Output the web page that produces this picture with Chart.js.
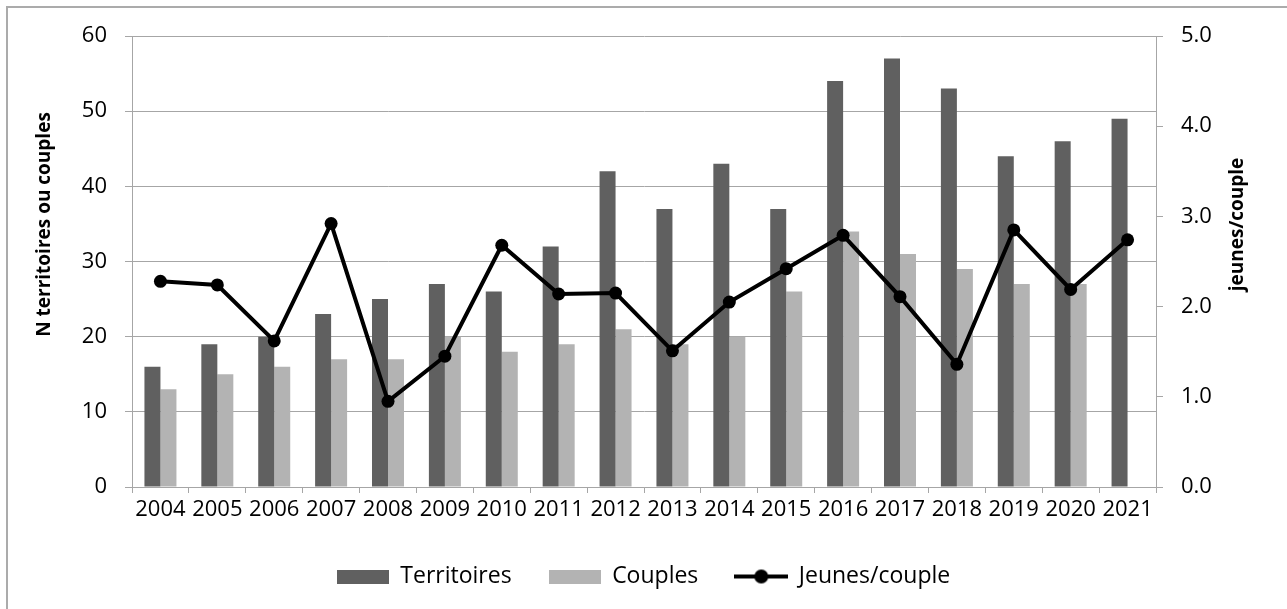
<!DOCTYPE html>
<html>
<head>
<meta charset="utf-8">
<script src="https://cdn.jsdelivr.net/npm/chart.js@4.4.1/dist/chart.umd.min.js"></script>
<style>
  html, body { margin: 0; padding: 0; background: #fff; }
  #wrap { position: relative; width: 1287px; height: 609px; overflow: hidden; }
  #frame { position: absolute; left: 6px; top: 6px; right: -10px; bottom: -10px;
           border-left: 2px solid #ababab; border-top: 2px solid #ababab; }
  #chart { position: absolute; left: 0; top: 0; }
</style>
</head>
<body>
<div id="wrap">
  <div id="frame"></div>
  <canvas id="chart" width="1287" height="609"></canvas>
</div>
<script>
// data
var annees = ["2004", "2005", "2006", "2007", "2008", "2009", "2010", "2011", "2012",
              "2013", "2014", "2015", "2016", "2017", "2018", "2019", "2020", "2021"];
var territoires = [16, 19, 20, 23, 25, 27, 26, 32, 42, 37, 43, 37, 54, 57, 53, 44, 46, 49];
var couples = [13, 15, 16, 17, 17, 20, 18, 19, 21, 19, 20, 26, 34, 31, 29, 27, 27, null];
var jeunesParCouple = [2.28, 2.24, 1.62, 2.92, 0.95, 1.45, 2.68, 2.14, 2.15, 1.51,
                       2.05, 2.42, 2.79, 2.11, 1.36, 2.85, 2.19, 2.74];
var ticksGauche = [0, 10, 20, 30, 40, 50, 60];
var ticksDroite = [0, 1, 2, 3, 4, 5];
var titreGauche = "N territoires ou couples";
var titreDroite = "jeunes/couple";

var FONT = "'Open Sans', sans-serif";
var TICK_SIZE = 22;
var LEGEND_SIZE = 23;
var GRIS_GRILLE = "#a6a6a6";
var FONCE = "#606060";
var CLAIR = "#b3b3b3";

// legend icons (drawn once on small canvases)
function iconeRect(color) {
  var c = document.createElement("canvas");
  c.width = 52; c.height = 14;
  var g = c.getContext("2d");
  g.fillStyle = color;
  g.fillRect(0, 0, 52, 14);
  return c;
}
function iconeLigne() {
  var c = document.createElement("canvas");
  c.width = 54; c.height = 16;
  var g = c.getContext("2d");
  g.strokeStyle = "#000"; g.lineWidth = 4;
  g.beginPath(); g.moveTo(0, 8); g.lineTo(54, 8); g.stroke();
  g.fillStyle = "#000";
  g.beginPath(); g.arc(27, 8, 7, 0, Math.PI * 2); g.fill();
  return c;
}
var icones = [iconeRect(FONCE), iconeRect(CLAIR), iconeLigne()];

// rotated axis titles, Excel puts them a bit above the middle
var titresAxes = {
  id: "titresAxes",
  afterDraw: function(chart) {
    var ctx = chart.ctx;
    var area = chart.chartArea;
    var cy = (area.top + area.bottom) / 2 - 37;
    [[titreGauche, 45], [titreDroite, 1238]].forEach(function(t) {
      ctx.save();
      ctx.fillStyle = "#000";
      ctx.font = "bold 19px " + FONT;
      ctx.textAlign = "center";
      ctx.textBaseline = "middle";
      ctx.translate(t[1], cy);
      ctx.rotate(-Math.PI / 2);
      ctx.fillText(t[0], 0, 0);
      ctx.restore();
    });
  }
};

Chart.defaults.font.family = FONT;
Chart.defaults.font.size = 20;
Chart.defaults.color = "#000";

var chart = new Chart(document.getElementById("chart").getContext("2d"), {
  type: "bar",
  data: {
    labels: annees,
    datasets: [{
      label: "Territoires",
      data: territoires,
      backgroundColor: FONCE,
      yAxisID: "y",
      order: 2,
      categoryPercentage: 0.5625,
      barPercentage: 1.0
    }, {
      label: "Couples",
      data: couples,
      backgroundColor: CLAIR,
      yAxisID: "y",
      order: 2,
      categoryPercentage: 0.5625,
      barPercentage: 1.0
    }, {
      type: "line",
      label: "Jeunes/couple",
      data: jeunesParCouple,
      borderColor: "#000",
      backgroundColor: "#000",
      borderWidth: 4,
      pointRadius: 6.5,
      pointHoverRadius: 6.5,
      pointBackgroundColor: "#000",
      pointBorderWidth: 0,
      tension: 0,
      yAxisID: "y1",
      order: 0
    }]
  },
  options: {
    responsive: false,
    animation: false,
    layout: { padding: { left: 0, right: 0, top: 36, bottom: 11 } },
    plugins: {
      tooltip: { enabled: false },
      legend: {
        position: "bottom",
        labels: {
          usePointStyle: true,
          pointStyleWidth: 52,
          padding: 37,
          font: { size: LEGEND_SIZE },
          generateLabels: function(chart) {
            var items = Chart.defaults.plugins.legend.labels.generateLabels(chart);
            items.sort(function(a, b) { return a.datasetIndex - b.datasetIndex; });
            items.forEach(function(it) { it.pointStyle = icones[it.datasetIndex]; });
            return items;
          }
        }
      }
    },
    scales: {
      x: {
        grid: {
          offset: true,
          drawOnChartArea: false,
          drawTicks: true,
          tickLength: 6,
          color: GRIS_GRILLE
        },
        border: { display: true, color: GRIS_GRILLE },
        ticks: { padding: 4, maxRotation: 0, autoSkip: false, font: { size: TICK_SIZE } },
        afterFit: function(scale) { scale.height = 41; }
      },
      y: {
        position: "left",
        min: ticksGauche[0],
        max: ticksGauche[ticksGauche.length - 1],
        afterBuildTicks: function(scale) {
          scale.ticks = ticksGauche.map(function(v) { return { value: v }; });
        },
        grid: { color: GRIS_GRILLE, tickLength: 7 },
        border: { display: true, color: GRIS_GRILLE },
        ticks: { padding: 18, font: { size: TICK_SIZE } },
        afterFit: function(scale) { scale.width = 132; }
      },
      y1: {
        position: "right",
        min: ticksDroite[0],
        max: ticksDroite[ticksDroite.length - 1],
        afterBuildTicks: function(scale) {
          scale.ticks = ticksDroite.map(function(v) { return { value: v }; });
        },
        grid: { drawOnChartArea: false, color: GRIS_GRILLE, tickLength: 7 },
        border: { display: true, color: GRIS_GRILLE },
        ticks: {
          padding: 18,
          font: { size: TICK_SIZE },
          callback: function(v) { return Number(v).toFixed(1); }
        },
        afterFit: function(scale) { scale.width = 131; }
      }
    }
  },
  plugins: [titresAxes]
});
</script>
</body>
</html>
